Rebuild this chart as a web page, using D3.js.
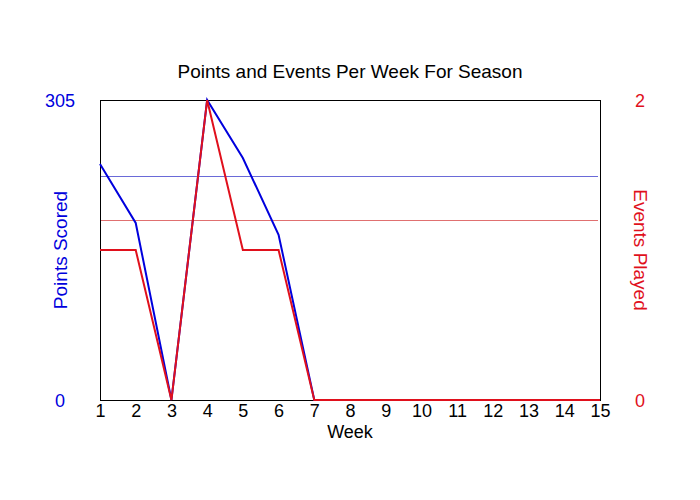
<!DOCTYPE html>
<html>
<head>
<meta charset="utf-8">
<script src="https://cdn.jsdelivr.net/npm/d3@7"></script>
<style>
  body { margin: 0; background: #fff; }
  text { font-family: "Liberation Sans", Arial, sans-serif; }
</style>
</head>
<body>
<div id="chart"></div>
<script>
// Data
const weeks = [1, 2, 3, 4, 5, 6, 7, 8, 9, 10, 11, 12, 13, 14, 15];
const points = [240, 180, 0, 305, 246, 168, 0, 0, 0, 0, 0, 0, 0, 0, 0];
const events = [1, 1, 0, 2, 1, 1, 0, 0, 0, 0, 0, 0, 0, 0, 0];
const pointsMax = 305;
const eventsMax = 2;

const W = 700, H = 500;
const margin = { top: 100, right: 100, bottom: 100, left: 100 };
const width = W - margin.left - margin.right, height = H - margin.top - margin.bottom;
const font = "Liberation Sans, Arial, sans-serif";

const svg = d3.select("#chart").append("svg")
  .attr("width", W)
  .attr("height", H);

const g = svg.append("g")
  .attr("transform", `translate(${margin.left}, ${margin.top})`);

const x = d3.scaleLinear().domain([1, 15]).range([0, width]);
const yL = d3.scaleLinear().domain([0, pointsMax]).range([height, 0]);
const yR = d3.scaleLinear().domain([0, eventsMax]).range([height, 0]);

// averages over weeks actually played
const played = events.map((e, i) => i).filter(i => events[i] > 0);
const avgPoints = d3.mean(played, i => points[i]);
const avgEvents = d3.mean(played, i => events[i]);

g.append("line")
  .attr("x1", 0).attr("x2", width - 2)
  .attr("y1", Math.round(yL(avgPoints)) + 0.5).attr("y2", Math.round(yL(avgPoints)) + 0.5)
  .attr("stroke", "#6a6ad8").attr("stroke-width", 1);

g.append("line")
  .attr("x1", 0).attr("x2", width - 2)
  .attr("y1", Math.round(yR(avgEvents)) + 0.5).attr("y2", Math.round(yR(avgEvents)) + 0.5)
  .attr("stroke", "#e07070").attr("stroke-width", 1);

// frame
g.append("rect")
  .attr("x", 0.5).attr("y", 0.5)
  .attr("width", width).attr("height", height)
  .attr("fill", "none").attr("stroke", "#000").attr("stroke-width", 1)
  .attr("shape-rendering", "crispEdges");

const linePts = d3.line().x((d, i) => x(weeks[i])).y(d => yL(d));
const lineEv = d3.line().x((d, i) => x(weeks[i])).y(d => yR(d));

g.append("path").datum(points)
  .attr("d", linePts)
  .attr("fill", "none").attr("stroke", "#0000dd").attr("stroke-width", 2);

g.append("path").datum(events)
  .attr("d", lineEv)
  .attr("fill", "none").attr("stroke", "#e0101c").attr("stroke-width", 2);

// x axis ticks
const xAxis = g.append("g")
  .attr("transform", `translate(0, ${height})`)
  .call(d3.axisBottom(x).tickValues(weeks).tickSize(0).tickPadding(4).tickFormat(d3.format("d")));
xAxis.select(".domain").remove();
xAxis.selectAll("text").attr("font-size", 18).attr("fill", "#000")
  .attr("font-family", font);

g.append("text")
  .attr("x", width / 2)
  .attr("y", height + 38)
  .attr("text-anchor", "middle")
  .attr("font-size", 18)
  .attr("font-family", font)
  .text("Week");

// left and right axis labels (only ends)
const yLAxis = g.append("g")
  .attr("transform", "translate(-40, 0)")
  .call(d3.axisLeft(yL).tickValues([0, pointsMax]).tickSize(0).tickPadding(0).tickFormat(d3.format("d")));
yLAxis.select(".domain").remove();
yLAxis.selectAll("text").attr("text-anchor", "middle").attr("dy", "0.35em")
  .attr("font-size", 18).attr("fill", "#0000dd")
  .attr("font-family", font);

const yRAxis = g.append("g")
  .attr("transform", `translate(${width + 40}, 0)`)
  .call(d3.axisRight(yR).tickValues([0, eventsMax]).tickSize(0).tickPadding(0).tickFormat(d3.format("d")));
yRAxis.select(".domain").remove();
yRAxis.selectAll("text").attr("text-anchor", "middle").attr("dy", "0.35em")
  .attr("font-size", 18).attr("fill", "#e0101c")
  .attr("font-family", font);

g.append("text")
  .attr("transform", "rotate(-90)")
  .attr("x", -height / 2)
  .attr("y", -33)
  .attr("text-anchor", "middle")
  .attr("font-size", 19)
  .attr("font-family", font)
  .attr("fill", "#0000dd")
  .text("Points Scored");

g.append("text")
  .attr("transform", "rotate(90)")
  .attr("x", height / 2)
  .attr("y", -(width + 34))
  .attr("text-anchor", "middle")
  .attr("font-size", 19)
  .attr("font-family", font)
  .attr("fill", "#e0101c")
  .text("Events Played");

svg.append("text")
  .attr("x", W / 2)
  .attr("y", 78)
  .attr("text-anchor", "middle")
  .attr("font-size", 19)
  .attr("font-family", font)
  .text("Points and Events Per Week For Season");
</script>
</body>
</html>
